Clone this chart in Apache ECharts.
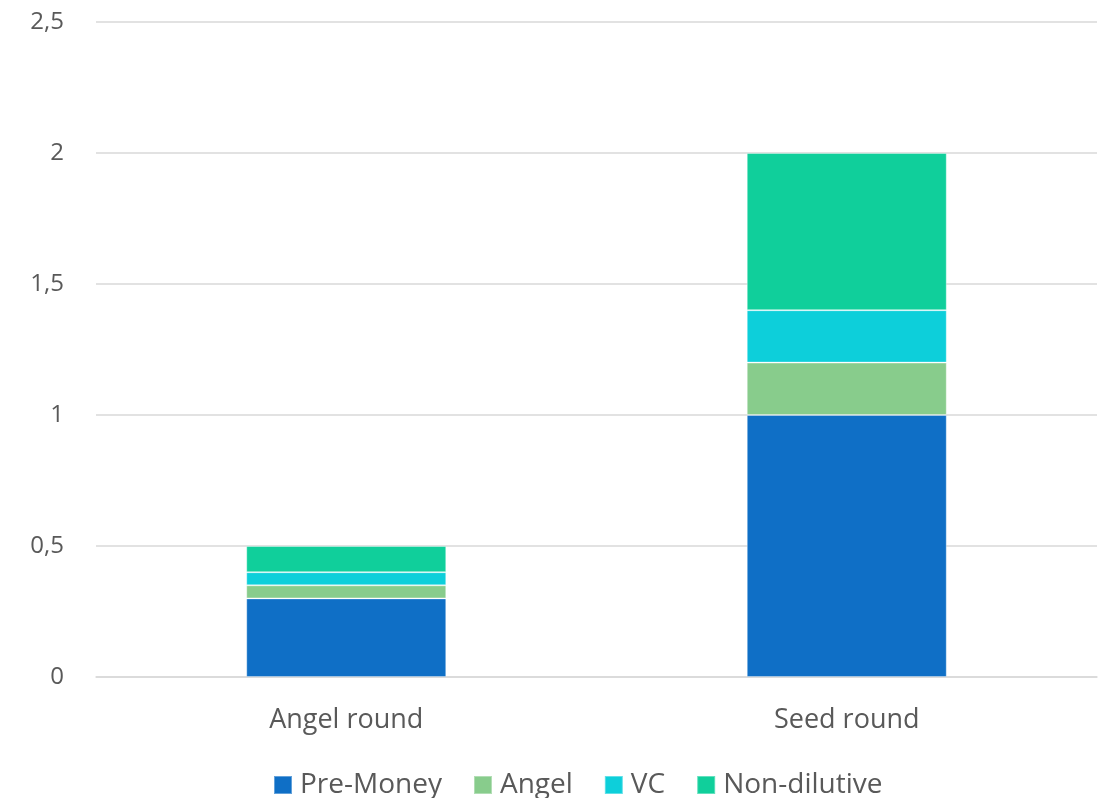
<!DOCTYPE html>
<html>
<head>
<meta charset="utf-8">
<script src="https://cdn.jsdelivr.net/npm/echarts@6/dist/echarts.min.js"></script>
<style>html,body{margin:0;padding:0;background:#fff}#c{width:1107px;height:798px}</style>
</head>
<body>
<div id="c"></div>
<script>
const categories = ['Angel round', 'Seed round'];
const preMoney = [0.3, 1.0];
const angel = [0.05, 0.2];
const vc = [0.05, 0.2];
const nonDilutive = [0.1, 0.6];
const seriesNames = ['Pre-Money', 'Angel', 'VC', 'Non-dilutive'];
const colors = ['#0F6FC6', '#88CC8C', '#0DCFDA', '#10CF9B'];

const chart = echarts.init(document.getElementById('c'));
const dataSets = [preMoney, angel, vc, nonDilutive];
chart.setOption({
  animation: false,
  textStyle: { fontFamily: 'Open Sans' },
  grid: { left: 96, right: 10, top: 22, bottom: 121 },
  legend: {
    bottom: -6, left: 268,
    itemWidth: 18, itemHeight: 18, itemGap: 31,
    icon: 'rect',
    textStyle: { fontSize: 28, color: '#595959', fontFamily: 'Open Sans', padding: [0, 0, 0, 3] },
    data: seriesNames
  },
  xAxis: {
    type: 'category', data: categories,
    axisLine: { lineStyle: { color: '#D9D9D9', width: 1.5 } },
    axisTick: { show: false },
    axisLabel: { fontSize: 27, color: '#595959', margin: 30 }
  },
  yAxis: {
    type: 'value', min: 0, max: 2.5, interval: 0.5,
    splitLine: { lineStyle: { color: '#D9D9D9', width: 1.5 } },
    axisLabel: { fontSize: 24, color: '#595959', margin: 32,
      formatter: v => String(v).replace('.', ',') }
  },
  series: dataSets.map((d, i) => ({
    name: seriesNames[i], type: 'bar', stack: 'total', data: d,
    barWidth: 200,
    itemStyle: { color: colors[i], borderColor: 'rgba(255,255,255,0.35)', borderWidth: 1 }
  }))
});
</script>
</body>
</html>
